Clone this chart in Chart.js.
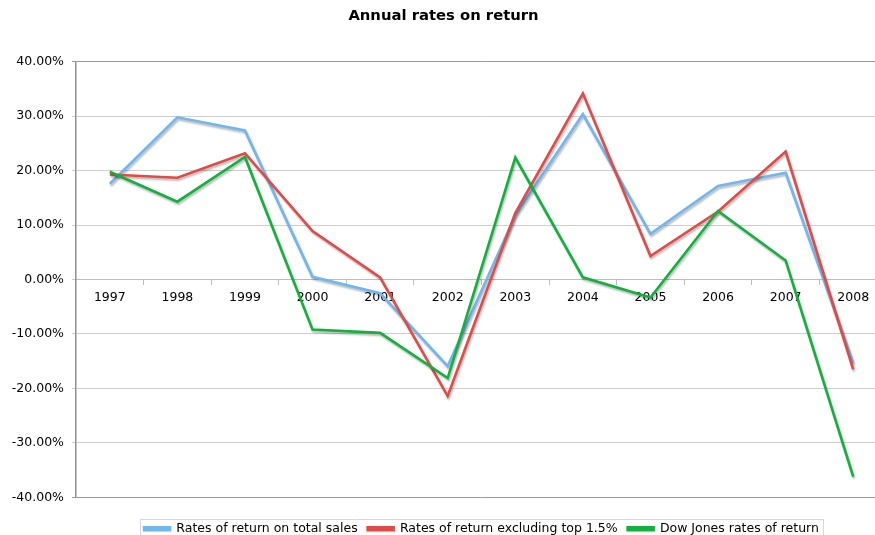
<!DOCTYPE html>
<html>
<head>
<meta charset="utf-8">
<script src="https://cdn.jsdelivr.net/npm/chart.js@4.4.1/dist/chart.umd.min.js"></script>
<style>
  body { margin: 0; background: #fff; }
  #wrap { width: 875px; height: 535px; overflow: hidden; }
</style>
</head>
<body>
<div id="wrap"><canvas id="returns" width="893" height="545"></canvas></div>
<script>
// yearly returns, in percent
var years = ["1997", "1998", "1999", "2000", "2001", "2002", "2003", "2004", "2005", "2006", "2007", "2008"];
var totalSales = [17.6, 29.8, 27.4, 0.5, -2.5, -15.9, 11.8, 30.4, 8.4, 17.2, 19.6, -15.3];
var exclTop = [19.3, 18.7, 23.2, 8.9, 0.4, -21.4, 12.2, 34.2, 4.3, 12.5, 23.5, -16.5];
var dowJones = [19.8, 14.3, 22.5, -9.2, -9.8, -18.1, 22.4, 0.4, -3.3, 12.6, 3.5, -36.2];
var seriesNames = ["Rates of return on total sales", "Rates of return excluding top 1.5%", "Dow Jones rates of return"];
var seriesColors = ["#72b6ee", "#e04a47", "#12b03c"];

var FONT = "'DejaVu Sans', Verdana, sans-serif";

// soft drop shadow under the lines
var lineShadow = {
    id: "lineShadow",
    beforeDatasetsDraw: function(chart){
        var ctx = chart.ctx;
        ctx.save();
        ctx.shadowColor = "rgba(0,0,0,0.28)";
        ctx.shadowBlur = 2;
        ctx.shadowOffsetX = 1;
        ctx.shadowOffsetY = 2;
    },
    afterDatasetsDraw: function(chart){
        chart.ctx.restore();
    }
};

// thin frame round the legend
var legendFrame = {
    id: "legendFrame",
    afterDraw: function(chart){
        var boxes = chart.legend.legendHitBoxes;
        if (!boxes || !boxes.length) return;
        var l = Infinity, r = -Infinity, t = Infinity, b = -Infinity;
        boxes.forEach(function(h){
            l = Math.min(l, h.left); r = Math.max(r, h.left + h.width);
            t = Math.min(t, h.top); b = Math.max(b, h.top + h.height);
        });
        var ctx = chart.ctx;
        ctx.save();
        ctx.strokeStyle = "#d8d8d8";
        ctx.lineWidth = 1;
        ctx.strokeRect(Math.round(l - 4) + 0.5, Math.round(t - 4) + 0.5, Math.round(r - l + 8), Math.round(b - t + 10));
        ctx.restore();
    }
};

var datasets = [totalSales, exclTop, dowJones].map(function(vals, i){
    return {
        label: seriesNames[i],
        data: vals,
        borderColor: seriesColors[i],
        backgroundColor: seriesColors[i],
        borderWidth: 2.6,
        pointRadius: 0,
        tension: 0,
        order: 2 - i
    };
});

new Chart(document.getElementById("returns"), {
    type: "line",
    data: { labels: years, datasets: datasets },
    plugins: [lineShadow, legendFrame],
    options: {
        responsive: false,
        animation: false,
        layout: { padding: { left: 0, right: 6, top: 0, bottom: 0 } },
        plugins: {
            title: {
                display: true,
                text: "Annual rates on return",
                color: "#000",
                font: { family: FONT, size: 14.8, weight: "bold" },
                padding: { top: 7, bottom: 37 }
            },
            legend: {
                position: "bottom",
                fullSize: false,
                // blank title only adds room above the entries
                title: { display: true, text: " ", font: { size: 1 }, padding: 7 },
                labels: {
                    color: "#000",
                    font: { family: FONT, size: 12.5 },
                    boxWidth: 26,
                    boxHeight: 3,
                    padding: 10,
                    sort: function(a, b){ return a.datasetIndex - b.datasetIndex; }
                }
            },
            tooltip: { enabled: false }
        },
        scales: {
            x: {
                position: { y: 0 },
                offset: true,
                grid: { offset: true, drawOnChartArea: false, drawTicks: true, tickLength: 5, color: "#bdbdbd" },
                border: { display: true, color: "#bdbdbd" },
                ticks: { color: "#000", font: { family: FONT, size: 12.5 }, padding: 6, maxRotation: 0, autoSkip: false }
            },
            y: {
                min: -40,
                max: 40,
                afterFit: function(scale){ scale.width = 76; },
                grid: {
                    tickLength: 4,
                    color: function(c){
                        return (c.tick && Math.abs(c.tick.value) === 40) ? "#9a9a9a" : "#cfcfcf";
                    }
                },
                border: { display: true, color: "#8f8f8f", width: 1.5 },
                ticks: {
                    stepSize: 10,
                    color: "#000",
                    padding: 8,
                    font: { family: FONT, size: 12.5 },
                    callback: function(v){ return v.toFixed(2) + "%"; }
                }
            }
        }
    }
});
</script>
</body>
</html>
